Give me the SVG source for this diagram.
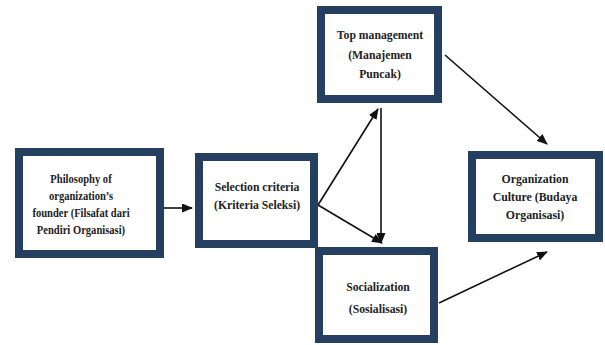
<svg xmlns="http://www.w3.org/2000/svg" width="605" height="345" viewBox="0 0 605 345">
<defs>
<style>
.box{fill:#fff;stroke:#243f60;stroke-width:8}
.t{font-family:'Liberation Serif','Times New Roman',serif;font-weight:bold;font-size:13px;fill:#222;text-anchor:middle}
.s{font-size:12px}
.c{stroke:#111;stroke-width:1.6;fill:none;marker-end:url(#ah)}
</style>
<marker id="ah" markerWidth="11" markerHeight="9" refX="10" refY="4.5" orient="auto" markerUnits="userSpaceOnUse">
<path d="M0,0 L11,4.5 L0,9 Z" fill="#111"/>
</marker>
</defs>
<rect width="605" height="345" fill="#fff"/>
<g id="connectors">
<line class="c" x1="163" y1="208" x2="192" y2="208"/>
<line class="c" x1="318" y1="205" x2="378" y2="109"/>
<line class="c" x1="318" y1="205" x2="382" y2="243"/>
<line class="c" x1="381" y1="108" x2="381" y2="243"/>
<line class="c" x1="445" y1="55" x2="547" y2="144"/>
<line class="c" x1="439" y1="303" x2="547" y2="252"/>
</g>
<g id="philosophy">
<rect class="box" x="19" y="152" width="141" height="102"/>
<text class="t s" transform="translate(81,183) scale(0.88,1)">Philosophy of</text>
<text class="t s" transform="translate(81,200) scale(0.88,1)">organization’s</text>
<text class="t s" transform="translate(81,217) scale(0.88,1)">founder (Filsafat dari</text>
<text class="t s" transform="translate(81,234) scale(0.88,1)">Pendiri Organisasi)</text>
</g>
<g id="selection">
<rect class="box" x="199" y="157" width="115" height="87"/>
<text class="t" transform="translate(257,191) scale(0.9,1)">Selection criteria</text>
<text class="t" transform="translate(257,209) scale(0.9,1)">(Kriteria Seleksi)</text>
</g>
<g id="topmanagement">
<rect class="box" x="321" y="10" width="117" height="89"/>
<text class="t" transform="translate(380,39) scale(0.9,1)">Top management</text>
<text class="t" transform="translate(380,59) scale(0.9,1)">(Manajemen</text>
<text class="t" transform="translate(380,78) scale(0.9,1)">Puncak)</text>
</g>
<g id="socialization">
<rect class="box" x="319" y="251" width="115" height="88"/>
<text class="t" transform="translate(378,291) scale(0.9,1)">Socialization</text>
<text class="t" transform="translate(378,313) scale(0.9,1)">(Sosialisasi)</text>
</g>
<g id="culture">
<rect class="box" x="472" y="155" width="127" height="83"/>
<text class="t" transform="translate(535,183) scale(0.91,1)">Organization</text>
<text class="t" transform="translate(535,201) scale(0.91,1)">Culture (Budaya</text>
<text class="t" transform="translate(535,219) scale(0.91,1)">Organisasi)</text>
</g>
</svg>
